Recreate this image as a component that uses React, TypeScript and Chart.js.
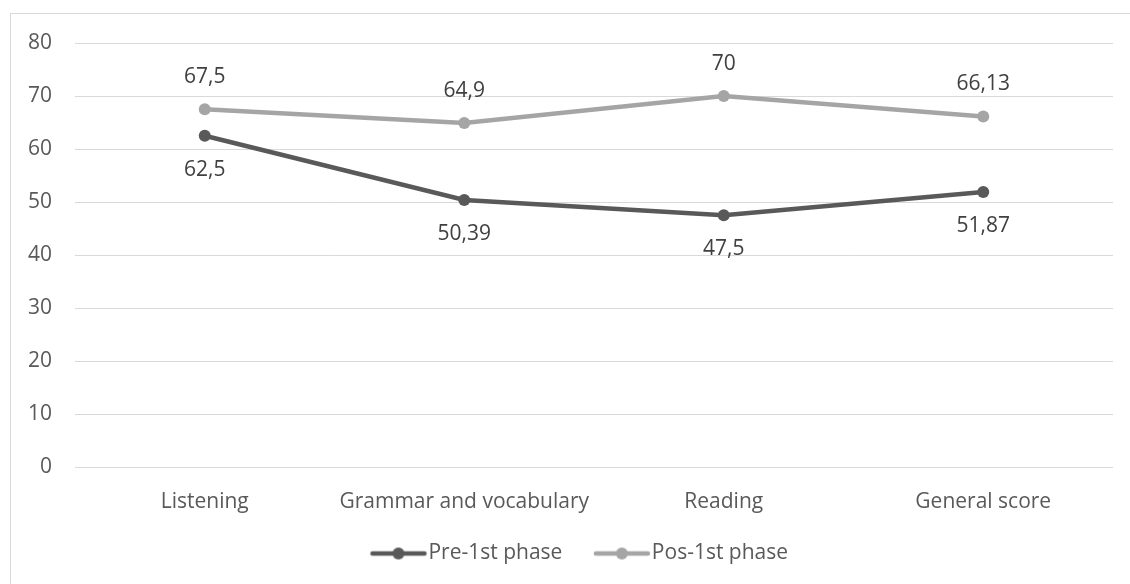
import React, { useEffect, useRef } from "react";
import { Chart, registerables } from "chart.js";

Chart.register(...registerables);

const categories = ["Listening", "Grammar and vocabulary", "Reading", "General score"];
const preValues = [62.5, 50.39, 47.5, 51.87];
const posValues = [67.5, 64.9, 70, 66.13];
const preLabels = ["62,5", "50,39", "47,5", "51,87"];
const posLabels = ["67,5", "64,9", "70", "66,13"];
const seriesNames = ["Pre-1st phase", "Pos-1st phase"];

const DARK = "#595959";
const LIGHT = "#A5A5A5";
const FONT = "'Open Sans', 'Noto Sans', sans-serif";
const FS = 21;

function legendIcon(color: string) {
  const c = document.createElement("canvas");
  c.width = 64;
  c.height = 14;
  const ctx = c.getContext("2d")!;
  ctx.strokeStyle = color;
  ctx.lineWidth = 4.5;
  ctx.lineCap = "round";
  ctx.beginPath();
  ctx.moveTo(6, 7);
  ctx.lineTo(58, 7);
  ctx.stroke();
  ctx.fillStyle = color;
  ctx.beginPath();
  ctx.arc(32, 7, 6, 0, Math.PI * 2);
  ctx.fill();
  return c;
}

const labelPlugin = {
  id: "valueLabels",
  afterDatasetsDraw(chart: any) {
    const ctx = chart.ctx;
    ctx.save();
    ctx.font = `${FS}px ${FONT}`;
    ctx.fillStyle = "#404040";
    ctx.textAlign = "center";
    ctx.textBaseline = "middle";
    chart.data.datasets.forEach((ds: any, i: number) => {
      const meta = chart.getDatasetMeta(i);
      const texts = i === 0 ? preLabels : posLabels;
      const off = i === 0 ? 34 : -32;
      meta.data.forEach((el: any, j: number) => {
        ctx.fillText(texts[j], el.x, el.y + off);
      });
    });
    ctx.restore();
  },
};

const borderPlugin = {
  id: "outerBorder",
  beforeDraw(chart: any) {
    const ctx = chart.ctx;
    ctx.save();
    ctx.fillStyle = "#ffffff";
    ctx.fillRect(0, 0, chart.width, chart.height);
    ctx.strokeStyle = "#D9D9D9";
    ctx.lineWidth = 1;
    ctx.strokeRect(10.5, 13.5, chart.width + 10, chart.height + 10);
    ctx.restore();
  },
};

const legendShiftPlugin = {
  id: "legendShift",
  afterLayout(chart: any) {
    const lg = chart.legend;
    if (!lg) return;
    const dx = 27;
    const dy = -10;
    lg.left += dx;
    lg.right += dx;
    lg.top += dy;
    lg.bottom += dy;
  },
};

export default function App() {
  const ref = useRef<HTMLCanvasElement>(null);
  useEffect(() => {
    const darkIcon = legendIcon(DARK);
    const lightIcon = legendIcon(LIGHT);
    const chart = new Chart(ref.current!, {
      type: "line",
      data: {
        labels: categories,
        datasets: [
          {
            label: seriesNames[0],
            data: preValues,
            borderColor: DARK,
            backgroundColor: DARK,
            borderWidth: 4.5,
            pointRadius: 6,
            pointBackgroundColor: DARK,
            pointBorderWidth: 0,
            tension: 0,
          },
          {
            label: seriesNames[1],
            data: posValues,
            borderColor: LIGHT,
            backgroundColor: LIGHT,
            borderWidth: 4.5,
            pointRadius: 6,
            pointBackgroundColor: LIGHT,
            pointBorderWidth: 0,
            tension: 0,
          },
        ],
      },
      options: {
        animation: false,
        responsive: false,
        layout: { padding: { top: 43, right: 17, left: 0, bottom: 0 } },
        elements: { point: { pointStyle: "circle" } },
        scales: {
          x: {
            offset: true,
            grid: { display: false, drawTicks: false, tickLength: 0 },
            border: { display: false },
            ticks: { color: DARK, font: { family: FONT, size: FS }, padding: 22, maxRotation: 0 },
            afterFit(scale: any) {
              scale.height = 46;
            },
          },
          y: {
            min: 0,
            max: 80,
            ticks: { stepSize: 10, color: DARK, font: { family: FONT, size: FS }, padding: 23 },
            grid: { color: "#D9D9D9", drawTicks: false, lineWidth: 1 },
            border: { display: false },
            afterFit(scale: any) {
              scale.width = 75;
            },
          },
        },
        plugins: {
          tooltip: { enabled: false },
          legend: {
            position: "bottom",
            labels: {
              color: DARK,
              font: { family: FONT, size: FS },
              usePointStyle: true,
              pointStyleWidth: 39,
              padding: 40,
              generateLabels(chart: any) {
                return chart.data.datasets.map((ds: any, i: number) => ({
                  text: ds.label,
                  fillStyle: ds.borderColor,
                  strokeStyle: ds.borderColor,
                  lineWidth: 0,
                  pointStyle: i === 0 ? darkIcon : lightIcon,
                  fontColor: DARK,
                  hidden: false,
                  datasetIndex: i,
                }));
              },
            },
          },
        },
      },
      plugins: [borderPlugin, labelPlugin, legendShiftPlugin],
    });
    return () => chart.destroy();
  }, []);
  return (
    <div style={{ position: "absolute", left: 0, top: 0, width: 1130, height: 584 }}>
      <canvas ref={ref} width={1130} height={584} />
    </div>
  );
}
